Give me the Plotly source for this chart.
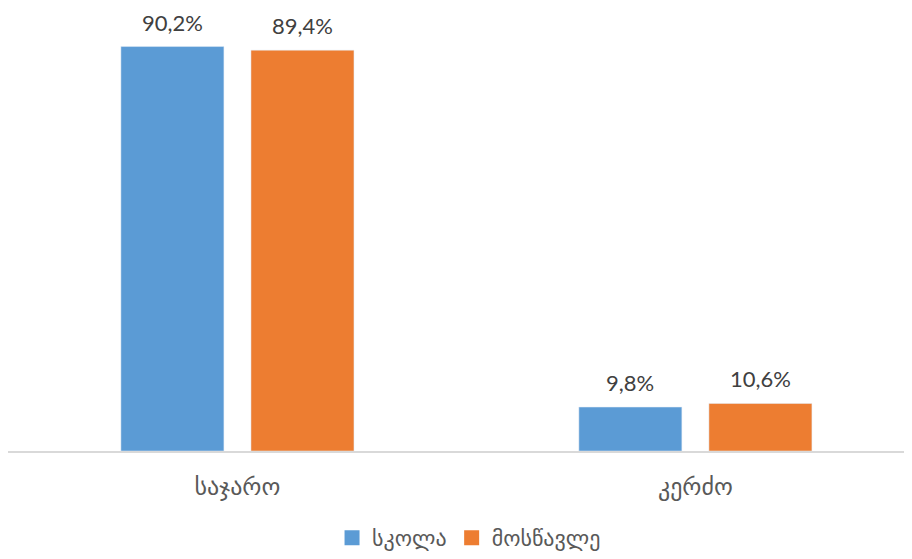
import plotly.graph_objects as go

categories = ["საჯარო", "კერძო"]
series_names = ["სკოლა", "მოსწავლე"]
school = [90.2, 9.8]
student = [89.4, 10.6]
colors = ["#5B9BD5", "#ED7D31"]


def fmt(v):
    return f"{v:.1f}%".replace(".", ",")


fig = go.Figure()
for name, vals, col in zip(series_names, [school, student], colors):
    fig.add_trace(go.Bar(
        x=categories, y=vals, name=name, marker_color=col,
        showlegend=False, legendgroup=name,
    ))
# legend-only entries with larger square swatches
for name, col in zip(series_names, colors):
    fig.add_trace(go.Scatter(
        x=[None], y=[None], mode="markers", name=name, legendgroup=name,
        marker=dict(symbol="square", size=15, color=col),
    ))

# data labels placed over each bar (grouped offsets in pixels)
for vals, xs in zip([school, student], [-65, 65]):
    for c, v in zip(categories, vals):
        fig.add_annotation(
            x=c, y=v, text=fmt(v), showarrow=False,
            xshift=xs, yshift=9, yanchor="bottom",
            font=dict(size=22, color="#404040", family="Lato"),
        )

fig.update_layout(
    width=904, height=551,
    margin=dict(l=0, r=0, t=0, b=104),
    plot_bgcolor="white", paper_bgcolor="white",
    barmode="group", bargap=0.432, bargroupgap=0.208,
    font=dict(family="DejaVu Sans", color="#595959"),
    showlegend=True,
    legend=dict(orientation="h", x=0.51, xanchor="center", y=-0.196, yanchor="middle",
                font=dict(size=22, color="#595959"), itemwidth=30),
    xaxis=dict(showline=True, linecolor="#D9D9D9", linewidth=2, ticks="",
               range=[-0.501, 1.473], ticklabelstandoff=13,
               tickfont=dict(size=24, color="#595959"), showgrid=False),
    yaxis=dict(range=[0, 98.8], visible=False, showgrid=False),
)

fig.write_html("out.html")
